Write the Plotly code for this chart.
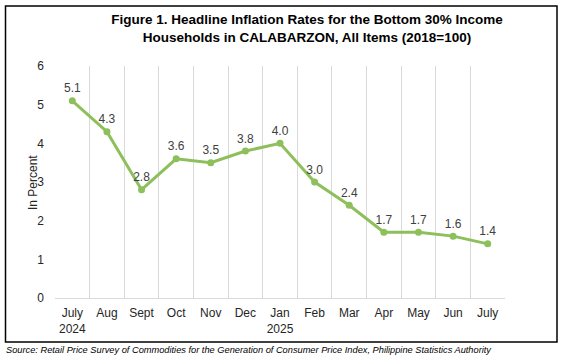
import plotly.graph_objects as go

months = ["July<br>2024", "Aug", "Sept", "Oct", "Nov", "Dec", "Jan<br>2025",
          "Feb", "Mar", "Apr", "May", "Jun", "July"]
keys = ["Jul24", "Aug24", "Sep24", "Oct24", "Nov24", "Dec24", "Jan25",
        "Feb25", "Mar25", "Apr25", "May25", "Jun25", "Jul25"]
inflation = [5.1, 4.3, 2.8, 3.6, 3.5, 3.8, 4.0, 3.0, 2.4, 1.7, 1.7, 1.6, 1.4]
y_ticks = [0, 1, 2, 3, 4, 5, 6]

GREEN = "#8DBF5B"
TXT = "#404040"

fig = go.Figure()
fig.add_trace(go.Scatter(
    x=keys, y=inflation, mode="lines+markers+text",
    line=dict(color=GREEN, width=3),
    marker=dict(color=GREEN, size=7),
    text=[f"{v:.1f}" for v in inflation],
    textposition="top center",
    textfont=dict(family="Liberation Sans, Arial", size=12, color=TXT),
    cliponaxis=False,
    hoverinfo="skip",
    showlegend=False,
))

L, R, T, B = 55, 57, 66, 61
W, H = 562, 359
pw, ph = W - L - R, H - T - B

def px_x(p):
    return (p - L) / pw

def px_y(p):
    return (H - B - p) / ph

fig.update_layout(
    width=W, height=H,
    margin=dict(l=L, r=R, t=T, b=B, autoexpand=False),
    paper_bgcolor="white", plot_bgcolor="white",
    font=dict(family="Liberation Sans, Arial", size=12, color=TXT),
    title=dict(
        text="<b>Figure 1. Headline Inflation Rates for the Bottom 30% Income<br>Households in CALABARZON, All Items (2018=100)</b>",
        x=307 / W, xref="container", xanchor="center",
        y=1 - 24 / H, yref="container", yanchor="top",
        automargin=False,
        font=dict(family="Liberation Sans, Arial", size=13.5, color="#000000"),
    ),
    xaxis=dict(
        type="category",
        tickmode="array", tickvals=keys, ticktext=months,
        range=[-0.5, len(keys) - 0.5],
        tickson="boundaries",
        tickangle=0, automargin=False,
        showgrid=True, gridcolor="#D9D9D9", gridwidth=1,
        showline=True, linecolor="#D9D9D9", linewidth=1,
        ticks="", ticklen=0, ticklabelstandoff=4,
        tickfont=dict(size=12, color="#262626"),
        zeroline=False,
    ),
    yaxis=dict(
        range=[0, 6], tickvals=y_ticks, automargin=False,
        showgrid=False, showline=False, zeroline=False,
        ticks="", ticklabelstandoff=10,
        tickfont=dict(size=12, color="#262626"),
    ),
    shapes=[dict(
        type="rect", xref="paper", yref="paper",
        x0=px_x(5.5), x1=px_x(557), y0=px_y(342), y1=px_y(6),
        line=dict(color="black", width=1.5), fillcolor="rgba(0,0,0,0)",
        layer="below",
    )],
    annotations=[
        dict(
            text="In Percent", textangle=-90,
            xref="paper", yref="paper", x=px_x(33), y=px_y(183),
            xanchor="center", yanchor="middle", showarrow=False,
            font=dict(family="Liberation Sans, Arial", size=12, color="#262626"),
        ),
        dict(
            text="<i>Source: Retail Price Survey of Commodities for the Generation of Consumer Price Index, Philippine Statistics Authority</i>",
            xref="paper", yref="paper", x=px_x(4), y=px_y(350),
            xanchor="left", yanchor="middle", showarrow=False,
            font=dict(family="Liberation Sans, Arial", size=9.25, color="#000000"),
        ),
    ],
)

fig.write_html(
    "out.html",
    config={"displayModeBar": False},
    post_script="document.body.style.margin='0px';document.body.style.overflow='hidden';",
)
